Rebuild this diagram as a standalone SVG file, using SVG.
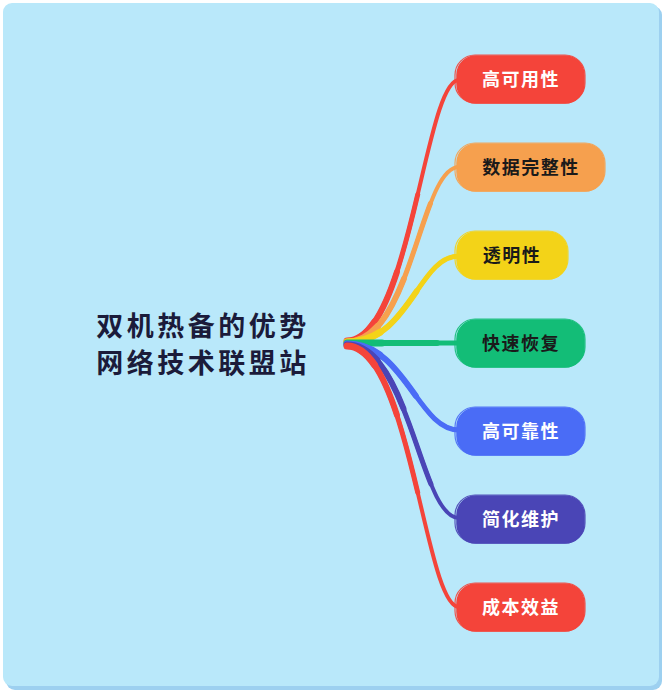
<svg xmlns="http://www.w3.org/2000/svg" width="664" height="692" viewBox="0 0 664 692">
<style>
.bg{fill:#B9E8FA}
.shadow{fill:#9DD0F0}
.title{font-family:"Noto Sans CJK SC","Noto Sans",sans-serif;font-weight:700;font-size:27px;letter-spacing:3.5px;fill:#1B1B3A;text-anchor:middle}
.lbl{font-family:"Noto Sans CJK SC","Noto Sans",sans-serif;font-weight:700;font-size:18px;letter-spacing:1.5px;text-anchor:middle}
.w{fill:#FFFFFF}
.d{fill:#1A1A1A}
.conn use{fill:none;stroke-linecap:round}
.t0{stroke-width:4}
.t1{stroke-width:5;stroke-dasharray:170 2000}
.t2{stroke-width:6;stroke-dasharray:90 2000}
.t3{stroke-width:7;stroke-dasharray:35 2000}
.box{stroke-width:1.5}
.sk{fill:none;stroke-width:1.2;opacity:0.9}
</style>
<defs>
  <path id="c1" d="M347,341 C410,341 425,80 459,80"/>
  <path id="c2" d="M347,342 C412,342 420,167 459,167"/>
  <path id="c3" d="M347,342 C410,342 418,256 459,256"/>
  <path id="c4" d="M347,343 L459,343"/>
  <path id="c5" d="M347,344 C405,344 418,430 459,430"/>
  <path id="c6" d="M347,345 C410,345 420,518 459,518"/>
  <path id="c7" d="M347,346 C410,346 425,607 459,607"/>
</defs>
<rect class="shadow" x="6" y="6" width="656" height="684" rx="9"/>
<rect class="bg" x="3" y="3" width="656" height="683" rx="9"/>

<g id="connectors" class="conn">
  <g stroke="#F4443A"><use href="#c1" class="t0"/><use href="#c1" class="t1"/><use href="#c1" class="t2"/><use href="#c1" class="t3"/></g>
  <g stroke="#F6A04E"><use href="#c2" class="t0"/><use href="#c2" class="t1"/><use href="#c2" class="t2"/><use href="#c2" class="t3"/></g>
  <g stroke="#F3D318"><use href="#c3" class="t0"/><use href="#c3" class="t1"/><use href="#c3" class="t2"/><use href="#c3" class="t3"/></g>
  <g stroke="#13BD77"><use href="#c4" class="t0"/><use href="#c4" class="t1"/><use href="#c4" class="t2"/><use href="#c4" class="t3"/></g>
  <g stroke="#4A6CF6"><use href="#c5" class="t0"/><use href="#c5" class="t1"/><use href="#c5" class="t2"/><use href="#c5" class="t3"/></g>
  <g stroke="#4A45B6"><use href="#c6" class="t0"/><use href="#c6" class="t1"/><use href="#c6" class="t2"/><use href="#c6" class="t3"/></g>
  <g stroke="#F4443A"><use href="#c7" class="t0"/><use href="#c7" class="t1"/><use href="#c7" class="t2"/><use href="#c7" class="t3"/></g>
</g>

<g id="center">
  <text class="title" x="203" y="336">双机热备的优势</text>
  <text class="title" x="203" y="373">网络技术联盟站</text>
</g>

<g id="n1">
  <rect class="box" x="457" y="56" width="127" height="47" rx="19" fill="#F4443A" stroke="#F4443A"/>
  <rect class="sk" x="455" y="55" width="130" height="48" rx="20" stroke="#F4443A"/>
  <text class="lbl w" x="521" y="86">高可用性</text>
</g>
<g id="n2">
  <rect class="box" x="457" y="144" width="147" height="47" rx="19" fill="#F6A04E" stroke="#F6A04E"/>
  <rect class="sk" x="455" y="143" width="150" height="48" rx="20" stroke="#F6A04E"/>
  <text class="lbl d" x="531" y="174">数据完整性</text>
</g>
<g id="n3">
  <rect class="box" x="457" y="232" width="110" height="47" rx="19" fill="#F3D318" stroke="#F3D318"/>
  <rect class="sk" x="455" y="231" width="113" height="48" rx="20" stroke="#F3D318"/>
  <text class="lbl d" x="512" y="262">透明性</text>
</g>
<g id="n4">
  <rect class="box" x="457" y="320" width="127" height="47" rx="19" fill="#13BD77" stroke="#13BD77"/>
  <rect class="sk" x="455" y="319" width="130" height="48" rx="20" stroke="#13BD77"/>
  <text class="lbl d" x="521" y="350">快速恢复</text>
</g>
<g id="n5">
  <rect class="box" x="457" y="408" width="127" height="47" rx="19" fill="#4A6CF6" stroke="#4A6CF6"/>
  <rect class="sk" x="455" y="407" width="130" height="48" rx="20" stroke="#4A6CF6"/>
  <text class="lbl w" x="521" y="438">高可靠性</text>
</g>
<g id="n6">
  <rect class="box" x="457" y="496" width="127" height="47" rx="19" fill="#4A45B6" stroke="#4A45B6"/>
  <rect class="sk" x="455" y="495" width="130" height="48" rx="20" stroke="#4A45B6"/>
  <text class="lbl w" x="521" y="526">简化维护</text>
</g>
<g id="n7">
  <rect class="box" x="457" y="584" width="127" height="47" rx="19" fill="#F4443A" stroke="#F4443A"/>
  <rect class="sk" x="455" y="583" width="130" height="48" rx="20" stroke="#F4443A"/>
  <text class="lbl w" x="521" y="614">成本效益</text>
</g>
</svg>
